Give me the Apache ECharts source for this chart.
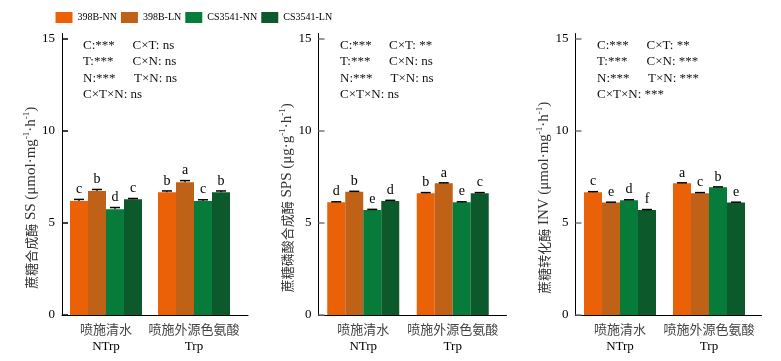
<!DOCTYPE html>
<html>
<head>
<meta charset="utf-8">
<script src="https://cdn.jsdelivr.net/npm/echarts@6/dist/echarts.min.js"></script>
<style>html,body{margin:0;padding:0;background:#fff}#c{width:781px;height:361px}</style>
</head>
<body>
<div id="c"></div>
<script>
// ---- data ----
const catCN = ['喷施清水', '喷施外源色氨酸'];
const catEN = ['NTrp', 'Trp'];
const seriesNames = ['398B-NN', '398B-LN', 'CS3541-NN', 'CS3541-LN'];
const yTicks = [0, 5, 10, 15];

// SS (per series: [NTrp, Trp])
const ssMeans   = [[6.18, 6.66], [6.73, 7.20], [5.74, 6.18], [6.28, 6.66]];
const ssErrors  = [[0.09, 0.07], [0.08, 0.09], [0.09, 0.07], [0.04, 0.07]];
const ssLetters = [['c', 'b'], ['b', 'a'], ['d', 'c'], ['c', 'b']];

// SPS
const spsMeans   = [[6.12, 6.61], [6.68, 7.15], [5.70, 6.12], [6.19, 6.61]];
const spsErrors  = [[0.02, 0.03], [0.03, 0.02], [0.03, 0.02], [0.03, 0.03]];
const spsLetters = [['d', 'b'], ['b', 'a'], ['e', 'e'], ['d', 'c']];

// INV
const invMeans   = [[6.66, 7.15], [6.10, 6.61], [6.23, 6.93], [5.69, 6.10]];
const invErrors  = [[0.03, 0.02], [0.02, 0.03], [0.02, 0.02], [0.03, 0.02]];
const invLetters = [['c', 'a'], ['e', 'c'], ['d', 'b'], ['f', 'e']];

// significance annotations: [left, right] per row
const ssStats  = [['C:***', 'C×T: ns'], ['T:***', 'C×N: ns'], ['N:***', 'T×N: ns'], ['C×T×N: ns', '']];
const spsStats = [['C:***', 'C×T: **'], ['T:***', 'C×N: ns'], ['N:***', 'T×N: ns'], ['C×T×N: ns', '']];
const invStats = [['C:***', 'C×T: **'], ['T:***', 'C×N: ***'], ['N:***', 'T×N: ***'], ['C×T×N: ***', '']];

// y-axis titles: [chinese, abbreviation + unit parts]
const yTitles = [
  ['蔗糖合成酶', ' SS (μmol·mg', 'h'],
  ['蔗糖磷酸合成酶', ' SPS (μg·g', 'h'],
  ['蔗糖转化酶', ' INV (μmol·mg', 'h']
];

// ---- styling / layout ----
const colors = ['#EA6108', '#BF6117', '#067B3A', '#0C5A2B'];
const SERIF = '"Liberation Serif","Times New Roman",serif';
const CJK = '"Noto Sans CJK SC",sans-serif';
const panels = [
  { left: 62, width: 176, ext: 186, means: ssMeans, errs: ssErrors, letters: ssLetters, stats: ssStats, sx: 83, sx2: 132.5, tickColor: '#000' },
  { left: 318.5, width: 179, ext: 188, means: spsMeans, errs: spsErrors, letters: spsLetters, stats: spsStats, sx: 340, sx2: 389, tickColor: '#777' },
  { left: 575.5, width: 178, ext: 186, means: invMeans, errs: invErrors, letters: invLetters, stats: invStats, sx: 597, sx2: 646.5, tickColor: '#777' }
];
const TOP = 38.5, HEIGHT = 276.5, BARW = 18, AXTOP = 33.5;

const grid = [], xAxis = [], yAxis = [], series = [], graphic = [];
panels.forEach((p, k) => {
  grid.push({ left: p.left, top: TOP, width: p.width, height: HEIGHT, containLabel: false });
  xAxis.push({
    type: 'category', gridIndex: k, data: catCN.map((c, i) => '{cn|' + c + '}\n{en|' + catEN[i] + '}'),
    axisLine: { show: false }, axisTick: { show: false },
    axisLabel: {
      margin: 6, interval: 0,
      rich: {
        cn: { fontFamily: CJK, fontSize: 13, color: '#444', lineHeight: 17 },
        en: { fontFamily: SERIF, fontSize: 13, color: '#000', lineHeight: 17 }
      }
    }
  });
  const t = yTitles[k];
  yAxis.push({
    type: 'value', gridIndex: k, min: yTicks[0], max: yTicks[yTicks.length - 1], interval: 5,
    axisLine: { show: false },
    axisTick: { show: true, inside: true, length: 6, lineStyle: { color: p.tickColor, width: 1.5 } },
    axisLabel: { fontFamily: SERIF, fontSize: 13, color: '#000', margin: 7 },
    splitLine: { show: false },
    name: '{c|' + t[0] + '}{m|' + t[1] + '}{s|-1}{m|·' + t[2] + '}{s|-1}{m|)}',
    nameLocation: 'middle', nameGap: 21, nameRotate: 90,
    nameTextStyle: {
      padding: [0, 42, 0, 0],
      rich: {
        c: { fontFamily: CJK, fontSize: 13, color: '#333', lineHeight: 17 },
        m: { fontFamily: SERIF, fontSize: 15, color: '#333', lineHeight: 17 },
        s: { fontFamily: SERIF, fontSize: 9, color: '#333', verticalAlign: 'top', lineHeight: 17 }
      }
    }
  });
});
// full-length axis lines (x line extends past last category, y line extends above 15)
panels.forEach((p, k) => {
  grid.push({ left: p.left, top: AXTOP, width: p.ext, height: TOP + HEIGHT - AXTOP });
  xAxis.push({ type: 'value', gridIndex: 3 + k, min: 0, max: 1, axisLine: { show: true, onZero: false, lineStyle: { color: '#000', width: 1 } },
    axisTick: { show: false }, axisLabel: { show: false }, splitLine: { show: false } });
  yAxis.push({ type: 'value', gridIndex: 3 + k, min: 0, max: 1, axisLine: { show: true, onZero: false, lineStyle: { color: '#000', width: 1 } },
    axisTick: { show: false }, axisLabel: { show: false }, splitLine: { show: false } });
});

panels.forEach((p, k) => {
  seriesNames.forEach((name, si) => {
    series.push({
      name, type: 'bar', xAxisIndex: k, yAxisIndex: k, data: p.means[si],
      barWidth: BARW, barGap: 0, itemStyle: { color: colors[si] }, silent: true, z: 2
    });
  });
  const errData = [], letterList = [];
  seriesNames.forEach((name, si) => {
    p.means[si].forEach((m, ci) => {
      errData.push([ci, si, m, p.errs[si][ci]]);
      letterList.push(p.letters[si][ci]);
    });
  });
  series.push({
    type: 'custom', xAxisIndex: k, yAxisIndex: k, data: errData, z: 5, silent: true,
    encode: { x: 0, y: 2 },
    renderItem: function (params, api) {
      const ci = api.value(0), si = api.value(1), m = api.value(2), e = api.value(3);
      const top = api.coord([ci, m + e]);
      const base = api.coord([ci, m]);
      const x = top[0] + (si - 1.5) * BARW;
      const cap = 5;
      return {
        type: 'group',
        children: [
          { type: 'line', shape: { x1: x, y1: base[1], x2: x, y2: top[1] }, style: { stroke: '#000', lineWidth: 1.2 } },
          { type: 'line', shape: { x1: x - cap, y1: top[1], x2: x + cap, y2: top[1] }, style: { stroke: '#000', lineWidth: 1.5 } },
          { type: 'text', style: { text: letterList[params.dataIndex], x: x, y: top[1] - 3, align: 'center', verticalAlign: 'bottom',
            font: '14px ' + SERIF, fill: '#000' } }
        ]
      };
    }
  });
  const rowsY = [46, 62.5, 79, 95.5];
  p.stats.forEach((row, r) => {
    graphic.push({ type: 'text', left: p.sx, top: rowsY[r] - 7, style: { text: row[0], font: '13px ' + SERIF, fill: '#111' } });
    if (row[1]) graphic.push({ type: 'text', left: p.sx2 + (row[1].startsWith('T×N') ? 1.5 : 0), top: rowsY[r] - 7, style: { text: row[1], font: '13px ' + SERIF, fill: '#111' } });
  });
});

const chart = echarts.init(document.getElementById('c'), null, { renderer: 'canvas' });
chart.setOption({
  animation: false,
  backgroundColor: '#fff',
  legend: {
    data: seriesNames, left: 55.5, top: 12, itemWidth: 17, itemHeight: 11, itemGap: 4, padding: 0,
    icon: 'rect', selectedMode: false,
    textStyle: { fontFamily: SERIF, fontSize: 10, color: '#000', padding: [0, 0, 0, 0] }
  },
  grid, xAxis, yAxis, series, graphic
});
</script>
</body>
</html>
